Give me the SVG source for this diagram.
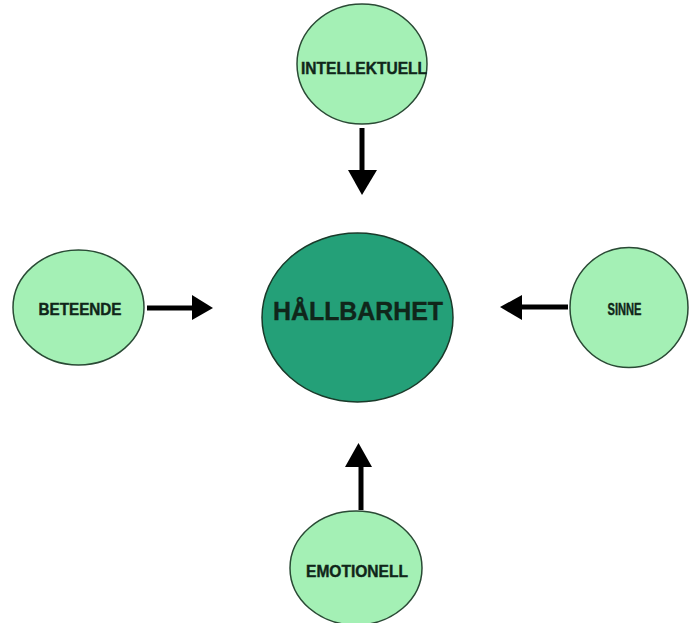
<svg xmlns="http://www.w3.org/2000/svg" width="689" height="623" viewBox="0 0 689 623">
<style>
.outer{fill:#a4f0b5;stroke:#2a4a35;stroke-width:1.5}
.center{fill:#24a078;stroke:#1a3a2a;stroke-width:1.5}
.lbl{font-family:"Liberation Sans",Arial,sans-serif;font-weight:bold;fill:#10261a;stroke:#10261a;stroke-width:0.4;text-anchor:middle;dominant-baseline:central}
.conn{stroke:#000;stroke-width:5;fill:none}
.head{fill:#000}
</style>
<rect width="689" height="623" fill="#ffffff"/>
<g id="node-hallbarhet">
<ellipse class="center" cx="357.5" cy="317.5" rx="95.5" ry="84.5"/>
<text class="lbl" x="358" y="311" font-size="26" textLength="170" lengthAdjust="spacingAndGlyphs">HÅLLBARHET</text>
</g>
<g id="node-intellektuell">
<ellipse class="outer" cx="362" cy="64" rx="65" ry="60"/>
<text class="lbl" x="364" y="68" font-size="16" textLength="126" lengthAdjust="spacingAndGlyphs">INTELLEKTUELL</text>
</g>
<g id="node-beteende">
<ellipse class="outer" cx="78.5" cy="307.5" rx="65.5" ry="57.5"/>
<text class="lbl" x="80" y="309" font-size="16" textLength="83" lengthAdjust="spacingAndGlyphs">BETEENDE</text>
</g>
<g id="node-sinne">
<ellipse class="outer" cx="629" cy="307.5" rx="59" ry="60"/>
<text class="lbl" x="624.5" y="309" font-size="16" textLength="34" lengthAdjust="spacingAndGlyphs">SINNE</text>
</g>
<g id="node-emotionell">
<ellipse class="outer" cx="356" cy="568" rx="66" ry="57"/>
<text class="lbl" x="357" y="571" font-size="16" textLength="102" lengthAdjust="spacingAndGlyphs">EMOTIONELL</text>
</g>
<g id="connectors">
<line class="conn" x1="362" y1="128" x2="362" y2="172"/>
<polygon class="head" points="348,170 377,170 362,195"/>
<line class="conn" x1="147" y1="308" x2="194" y2="308"/>
<polygon class="head" points="192,295 192,320 213,308"/>
<line class="conn" x1="568" y1="307" x2="520" y2="307"/>
<polygon class="head" points="522,295 522,320 500,307"/>
<line class="conn" x1="361" y1="510" x2="361" y2="465"/>
<polygon class="head" points="345,467 372,467 358.5,443"/>
</g>
</svg>
